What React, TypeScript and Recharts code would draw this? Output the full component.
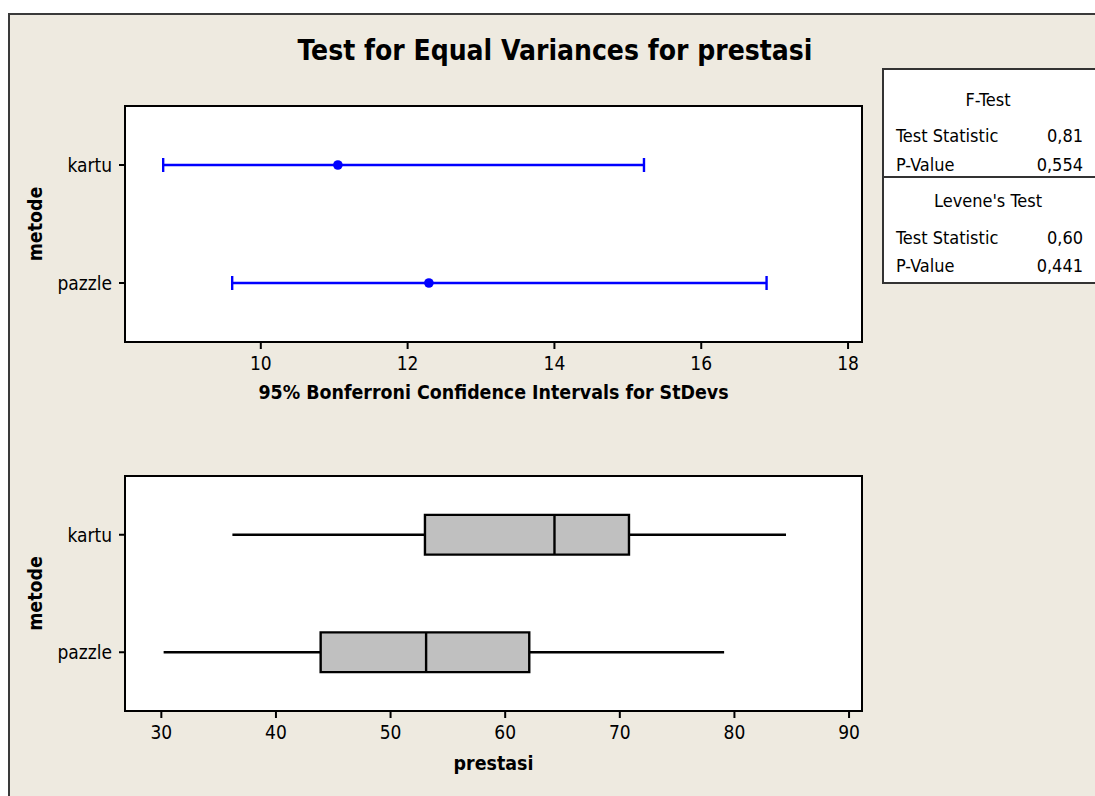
import React from 'react';
import {
  ScatterChart,
  Scatter,
  XAxis,
  YAxis,
  ErrorBar,
  ReferenceArea,
  ReferenceLine,
  Label,
} from 'recharts';

const groups = ['kartu', 'pazzle'];

// 95% Bonferroni confidence intervals for StDevs
const ciLower = [8.67, 9.61];
const ciSigma = [11.05, 12.29];
const ciUpper = [15.22, 16.89];
const ciTicks = [10, 12, 14, 16, 18];

// boxplot of prestasi
const boxMin = [36.2, 30.2];
const boxQ1 = [53.0, 43.9];
const boxMedian = [64.3, 53.1];
const boxQ3 = [70.8, 62.1];
const boxMax = [84.5, 79.1];
const boxTicks = [30, 40, 50, 60, 70, 80, 90];

// test results panel
const testNames = ['F-Test', "Levene's Test"];
const testStats = ['0,81', '0,60'];
const testPValues = ['0,554', '0,441'];

const FONT = "'DejaVu Sans Condensed', 'DejaVu Sans', sans-serif";
const BG = '#EEEAE0';
const BLUE = '#0000FF';
const BOX_HALF = 0.169;

const ciData = groups.map((g, i) => ({
  name: g,
  row: i + 1,
  sigma: ciSigma[i],
  err: [ciSigma[i] - ciLower[i], ciUpper[i] - ciSigma[i]],
}));

const boxData = groups.map((g, i) => ({ name: g, row: i + 1, median: boxMedian[i] }));

const boldStyle = { fontSize: 19.4, fill: '#000', fontFamily: FONT, fontWeight: 'bold' as const };
const lineStyle = { stroke: '#000', strokeWidth: 2 };

const xTick = (p: any) => (
  <text x={p.x} y={p.y} dy="0.71em" textAnchor="middle" fontSize={19} fontFamily={FONT} fill="#000">
    {p.payload.value}
  </text>
);

const yTick = (p: any) => (
  <text x={p.x} y={p.y} dy="0.36em" textAnchor="end" fontSize={19} fontFamily={FONT} fill="#000">
    {groups[p.payload.value - 1] ?? ''}
  </text>
);

const metodeLabel = (p: any) => {
  const vb = p.viewBox || { x: 0, y: 0, height: 0 };
  const cx = vb.x + 35;
  const cy = vb.y + vb.height / 2;
  return (
    <text
      x={cx}
      y={cy}
      transform={`rotate(-90, ${cx}, ${cy})`}
      textAnchor="middle"
      dominantBaseline="central"
      style={boldStyle}
    >
      metode
    </text>
  );
};

const App: React.FC = () => {
  const ciDomain: [number, number] = [8.15, 18.19];
  const boxDomain: [number, number] = [26.83, 91.13];
  const rowDomain: [number, number] = [0.5, 2.5];

  return (
    <div style={{ position: 'absolute', left: 0, top: 0, width: 1095, height: 796, background: '#fff', overflow: 'hidden', fontFamily: FONT }}>
      <div
        style={{
          position: 'absolute',
          left: 8,
          top: 13,
          width: 1200,
          height: 900,
          background: BG,
          borderLeft: '2px solid #3a3a3a',
          borderTop: '2px solid #3a3a3a',
        }}
      />

      <div style={{ position: 'absolute', left: 0, top: 0 }}>
        <ScatterChart width={900} height={420} margin={{ top: 106, right: 38, bottom: 18, left: 0 }}>
          <XAxis
            type="number"
            dataKey="sigma"
            domain={ciDomain}
            ticks={ciTicks}
            height={60}
            tickSize={7}
            tickMargin={8}
            axisLine={lineStyle}
            tickLine={lineStyle}
            tick={xTick}
          >
            <Label value="95% Bonferroni Confidence Intervals for StDevs" position="insideBottom" offset={3} style={boldStyle} />
          </XAxis>
          <YAxis
            type="number"
            dataKey="row"
            domain={rowDomain}
            reversed
            ticks={[1, 2]}
            width={125}
            tickSize={6}
            tickMargin={7}
            axisLine={lineStyle}
            tickLine={lineStyle}
            tick={yTick}
          >
            <Label content={metodeLabel} />
          </YAxis>
          <ReferenceArea
            x1={ciDomain[0]}
            x2={ciDomain[1]}
            y1={rowDomain[0]}
            y2={rowDomain[1]}
            fill="#fff"
            fillOpacity={1}
            stroke="#000"
            strokeWidth={2}
            ifOverflow="visible"
          />
          <Scatter
            data={ciData}
            fill={BLUE}
            isAnimationActive={false}
            shape={(p: any) => <circle cx={p.cx} cy={p.cy} r={4.8} fill={BLUE} />}
          >
            <ErrorBar dataKey="err" direction="x" width={7} stroke={BLUE} strokeWidth={2.4} isAnimationActive={false} />
          </Scatter>
        </ScatterChart>
      </div>

      <div style={{ position: 'absolute', left: 0, top: 430 }}>
        <ScatterChart width={900} height={366} margin={{ top: 46, right: 38, bottom: 25, left: 0 }}>
          <XAxis
            type="number"
            dataKey="median"
            domain={boxDomain}
            ticks={boxTicks}
            height={60}
            tickSize={7}
            tickMargin={8}
            axisLine={lineStyle}
            tickLine={lineStyle}
            tick={xTick}
          >
            <Label value="prestasi" position="insideBottom" offset={1} style={boldStyle} />
          </XAxis>
          <YAxis
            type="number"
            dataKey="row"
            domain={rowDomain}
            reversed
            ticks={[1, 2]}
            width={125}
            tickSize={6}
            tickMargin={7}
            axisLine={lineStyle}
            tickLine={lineStyle}
            tick={yTick}
          >
            <Label content={metodeLabel} />
          </YAxis>
          <ReferenceArea
            x1={boxDomain[0]}
            x2={boxDomain[1]}
            y1={rowDomain[0]}
            y2={rowDomain[1]}
            fill="#fff"
            fillOpacity={1}
            stroke="#000"
            strokeWidth={2}
            ifOverflow="visible"
          />
          {groups.map((g, i) => (
            <ReferenceLine
              key={`lo-${g}`}
              segment={[{ x: boxMin[i], y: i + 1 }, { x: boxQ1[i], y: i + 1 }]}
              stroke="#000"
              strokeWidth={2.4}
            />
          ))}
          {groups.map((g, i) => (
            <ReferenceLine
              key={`hi-${g}`}
              segment={[{ x: boxQ3[i], y: i + 1 }, { x: boxMax[i], y: i + 1 }]}
              stroke="#000"
              strokeWidth={2.4}
            />
          ))}
          {groups.map((g, i) => (
            <ReferenceArea
              key={`box-${g}`}
              x1={boxQ1[i]}
              x2={boxQ3[i]}
              y1={i + 1 - BOX_HALF}
              y2={i + 1 + BOX_HALF}
              fill="#C0C0C0"
              fillOpacity={1}
              stroke="#000"
              strokeWidth={2.4}
            />
          ))}
          {groups.map((g, i) => (
            <ReferenceLine
              key={`med-${g}`}
              segment={[{ x: boxMedian[i], y: i + 1 - BOX_HALF }, { x: boxMedian[i], y: i + 1 + BOX_HALF }]}
              stroke="#000"
              strokeWidth={2.4}
            />
          ))}
          <Scatter data={boxData} isAnimationActive={false} shape={() => <g />} />
        </ScatterChart>
      </div>

      <svg width={1095} height={796} style={{ position: 'absolute', left: 0, top: 0, pointerEvents: 'none' }}>
        <text x={555} y={60} textAnchor="middle" style={{ fontFamily: FONT, fontWeight: 'bold', fontSize: 28, fill: '#000' }}>
          Test for Equal Variances for prestasi
        </text>
        <rect x={883} y={69} width={230} height={214} fill="#fff" stroke="#333" strokeWidth={2} />
        <line x1={883} y1={177} x2={1113} y2={177} stroke="#333" strokeWidth={2} />
        {testNames.map((t, i) => {
          const base = i === 0 ? 106 : 206.5;
          const row1 = i === 0 ? 141.5 : 244;
          const row2 = i === 0 ? 171 : 271.5;
          const st = { fontFamily: FONT, fontSize: 18, fill: '#000' };
          return (
            <g key={t}>
              <text x={988} y={base} textAnchor="middle" style={st}>{t}</text>
              <text x={896} y={row1} style={st}>Test Statistic</text>
              <text x={1083} y={row1} textAnchor="end" style={st}>{testStats[i]}</text>
              <text x={896} y={row2} style={st}>P-Value</text>
              <text x={1083} y={row2} textAnchor="end" style={st}>{testPValues[i]}</text>
            </g>
          );
        })}
      </svg>
    </div>
  );
};

export default App;
